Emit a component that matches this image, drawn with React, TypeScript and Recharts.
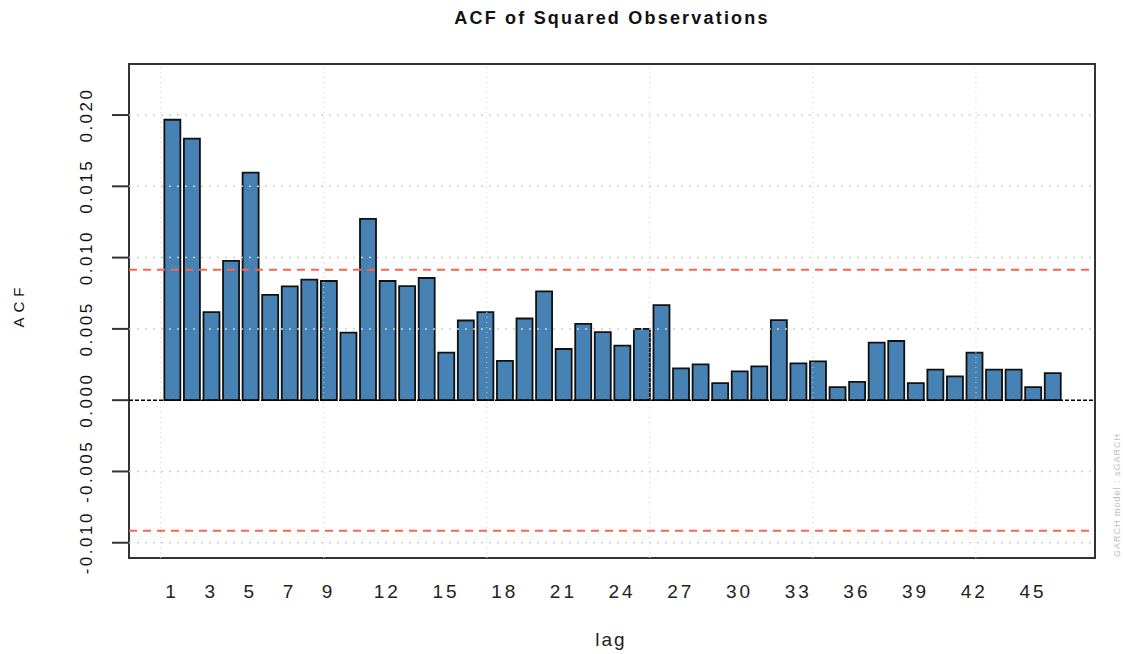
import { ComposedChart, Bar, XAxis, YAxis, ReferenceLine, ReferenceArea } from 'recharts';

const lags = [
  1, 2, 3, 4, 5, 6, 7, 8, 9, 10, 11, 12, 13, 14, 15, 16, 17, 18, 19, 20, 21, 22, 23,
  24, 25, 26, 27, 28, 29, 30, 31, 32, 33, 34, 35, 36, 37, 38, 39, 40, 41, 42, 43, 44, 45, 46,
];

const acfValues = [
  0.01967, 0.01835, 0.00617, 0.00977, 0.01596, 0.00739, 0.00798, 0.00845, 0.00836, 0.00474,
  0.01272, 0.00836, 0.00800, 0.00857, 0.00333, 0.00559, 0.00617, 0.00275, 0.00573, 0.00763,
  0.00359, 0.00535, 0.00477, 0.00383, 0.00500, 0.00667, 0.00223, 0.00251, 0.00120, 0.00202,
  0.00237, 0.00561, 0.00258, 0.00272, 0.00092, 0.00129, 0.00404, 0.00415, 0.00120, 0.00214,
  0.00167, 0.00333, 0.00214, 0.00214, 0.00092, 0.00190,
];

const xTicks = [1, 3, 5, 7, 9, 12, 15, 18, 21, 24, 27, 30, 33, 36, 39, 42, 45];
const yTicks = [-0.01, -0.005, 0, 0.005, 0.01, 0.015, 0.02];
const yTickLabels = ['-0.010', '-0.005', '0.000', '0.005', '0.010', '0.015', '0.020'];

// confidence bound (1.96/sqrt(n))
const confLimit = 0.00915;

// grid lines sit at barplot coordinates 0,10,...,50 (bar i centre = 1.2*i - 0.5)
const gridBarX = [0, 10, 20, 30, 40, 50];
const gridX = gridBarX.map((b) => (b + 0.5) / 1.2);
const gridY = [-0.01, -0.005, 0.005, 0.01, 0.015, 0.02];

const xDomain: [number, number] = [-1.205, 48.17];
const yDomain: [number, number] = [-0.01107, 0.02358];

const data = lags.map((lag, i) => ({ lag, acf: acfValues[i] }));

const FONT = '"Liberation Sans", Arial, Helvetica, sans-serif';

const YTick = (props: any) => {
  const { x, y, payload } = props;
  const idx = yTicks.indexOf(payload.value);
  const cx = x - 23;
  return (
    <text
      x={cx}
      y={y}
      transform={`rotate(-90, ${cx}, ${y})`}
      textAnchor="middle"
      dominantBaseline="central"
      fontFamily={FONT}
      fontSize={17}
      letterSpacing={2.5}
      fill="#111"
    >
      {idx >= 0 ? yTickLabels[idx] : payload.value}
    </text>
  );
};

const XTick = (props: any) => {
  const { x, y, payload } = props;
  return (
    <text x={x} y={y + 32} textAnchor="middle" fontFamily={FONT} fontSize={19} letterSpacing={3} fill="#222">
      {payload.value}
    </text>
  );
};

export default function App() {
  return (
    <div style={{ position: 'relative', width: 1123, height: 654, background: '#fff' }}>
      <style>{'body{margin:0}'}</style>
      <ComposedChart
        width={1123}
        height={654}
        data={data}
        margin={{ top: 64, right: 28, bottom: 56, left: 69 }}
      >
        <XAxis
          type="number"
          dataKey="lag"
          domain={xDomain}
          ticks={xTicks}
          allowDataOverflow
          axisLine={false}
          tickLine={false}
          height={40}
          tick={<XTick />}
          interval={0}
        />
        <YAxis
          type="number"
          domain={yDomain}
          ticks={yTicks}
          allowDataOverflow
          axisLine={false}
          tickSize={17}
          tickLine={{ stroke: '#333', strokeWidth: 2 }}
          width={60}
          tick={<YTick />}
          interval={0}
        />
        <Bar dataKey="acf" fill="#4682B4" stroke="#111" strokeWidth={1.8} barSize={16} isAnimationActive={false} />
        {gridX.map((gx) => (
          <ReferenceLine key={'gx' + gx} x={gx} stroke="#cfcfcf" strokeWidth={1} strokeDasharray="1 4" />
        ))}
        {gridY.map((gy) => (
          <ReferenceLine key={'gy' + gy} y={gy} stroke="#cfcfcf" strokeWidth={1.5} strokeDasharray="2 6" />
        ))}
        <ReferenceLine y={0} stroke="#000" strokeWidth={1.5} strokeDasharray="4 2" />
        <ReferenceLine y={confLimit} stroke="#FF6347" strokeWidth={2} strokeDasharray="8 6" />
        <ReferenceLine y={-confLimit} stroke="#FF6347" strokeWidth={2} strokeDasharray="8 6" />
        <ReferenceArea
          x1={xDomain[0]}
          x2={xDomain[1]}
          y1={yDomain[0]}
          y2={yDomain[1]}
          fill="none"
          stroke="#333"
          strokeWidth={2}
          ifOverflow="visible"
        />
      </ComposedChart>
      <svg
        width={1123}
        height={654}
        style={{ position: 'absolute', left: 0, top: 0, pointerEvents: 'none' }}
      >
        <text x={612} y={24} textAnchor="middle" fontFamily={FONT} fontWeight="bold" fontSize={18} letterSpacing={2.2} fill="#111">
          ACF of Squared Observations
        </text>
        <text x={611} y={646} textAnchor="middle" fontFamily={FONT} fontSize={19} letterSpacing={2} fill="#222">
          lag
        </text>
        <text
          x={18}
          y={305}
          transform="rotate(-90, 18, 305)"
          textAnchor="middle"
          dominantBaseline="central"
          fontFamily={FONT}
          fontSize={15}
          letterSpacing={5}
          fill="#111"
        >
          ACF
        </text>
        <text
          x={1117}
          y={557}
          transform="rotate(-90, 1117, 557)"
          textAnchor="start"
          dominantBaseline="central"
          fontFamily={FONT}
          fontSize={9}
          letterSpacing={1}
          fill="#bebebe"
        >
          GARCH model : sGARCH
        </text>
      </svg>
    </div>
  );
}
